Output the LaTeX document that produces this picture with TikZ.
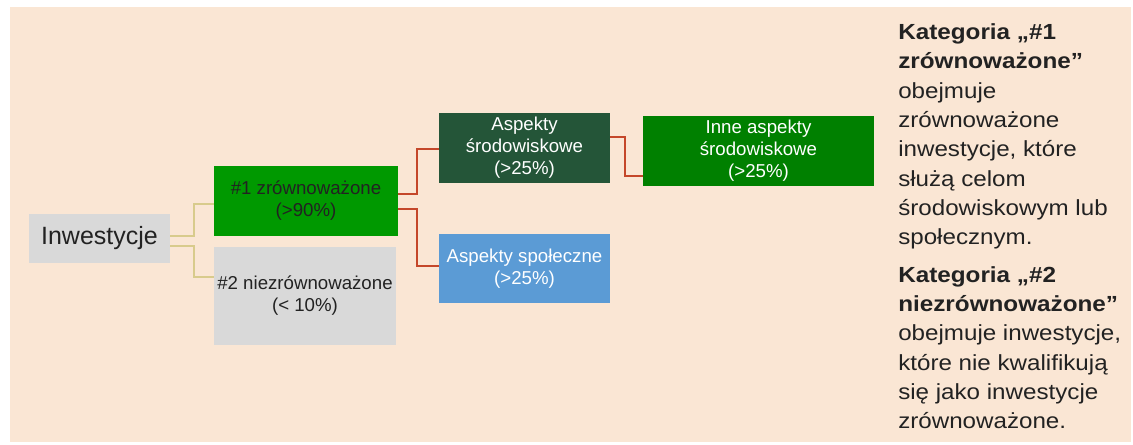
\documentclass[tikz,border=0pt]{standalone}
\usepackage{fontspec}
\setmainfont{Liberation Sans}
\newfontfamily\sideregular[FakeStretch=1.105]{Liberation Sans}
\newfontfamily\sidebold[FakeStretch=1.11]{Liberation Sans Bold}
\usetikzlibrary{calc}
\definecolor{bgc}{HTML}{FAE6D4}
\definecolor{greenA}{HTML}{009900}
\definecolor{greenB}{HTML}{245538}
\definecolor{greenC}{HTML}{008000}
\definecolor{greyA}{HTML}{D9D9D9}
\definecolor{blueA}{HTML}{5B9BD5}
\definecolor{redline}{HTML}{C4472A}
\definecolor{yelline}{HTML}{D8CB8C}
\definecolor{txt}{HTML}{222222}
\tikzset{
  box/.style={inner sep=0pt, align=center, font=\fontsize{14}{16.5}\selectfont},
  ylink/.style={draw=yelline, line width=1.5pt},
  rlink/.style={draw=redline, line width=1.5pt},
}
\begin{document}
\begin{tikzpicture}[x=0.75pt,y=-0.75pt]
\useasboundingbox (0,0) rectangle (1133,444);
\fill[bgc] (10,7) rectangle (1131,442);
\node[box, fill=greyA, text=txt, minimum width=141*0.75pt, minimum height=49*0.75pt, font=\fontsize{18.75}{22}\selectfont] (inv) at (99.5,238.5) {Inwestycje};
\node[box, fill=greenA, text=txt, minimum width=184*0.75pt, minimum height=70*0.75pt] (n1) at (306,201) {\#1 zrównoważone\\(>90\%)};
\node[box, fill=greyA, text=txt, minimum width=182*0.75pt, minimum height=98*0.75pt] (n2) at (305,296) {\#2 niezrównoważone\\(< 10\%)};
\node[box, fill=greenB, text=white, minimum width=171*0.75pt, minimum height=70*0.75pt] (as) at (524.5,148) {Aspekty\\środowiskowe\\(>25\%)};
\node[box, fill=blueA, text=white, minimum width=171*0.75pt, minimum height=69*0.75pt] (ap) at (524.5,268.5) {Aspekty społeczne\\(>25\%)};
\node[box, fill=greenC, text=white, minimum width=231*0.75pt, minimum height=70*0.75pt] (inne) at (758.5,151) {Inne aspekty\\środowiskowe\\(>25\%)};
% connectors
\draw[ylink] ($(inv.east)+(0,-2.5)$) -- ++(24,0) |- ($(n1.west)+(0,3)$);
\draw[ylink] ($(inv.east)+(0,7.5)$) -- ++(24,0) |- ($(n2.west)+(0,-19)$);
\draw[rlink] ($(n1.east)+(0,-7)$) -- ++(19,0) |- ($(as.west)+(0,1)$);
\draw[rlink] ($(n1.east)+(0,8)$) -- ++(19,0) |- ($(ap.west)+(0,-2.5)$);
\draw[rlink] ($(as.east)+(0,-11)$) -- ++(15,0) |- ($(inne.west)+(0,25)$);
% side text
\node[anchor=north west, inner sep=0pt, align=left, text=txt, font=\fontsize{16.4}{22}\sideregular] (side) at (898,23.5) {%
{\sidebold Kategoria „\#1}\\
{\sidebold zrównoważone”}\\
obejmuje\\
zrównoważone\\
inwestycje, które\\
służą celom\\
środowiskowym lub\\
społecznym.\\[6pt]
{\sidebold Kategoria „\#2}\\
{\sidebold niezrównoważone”}\\
obejmuje inwestycje,\\
które nie kwalifikują\\
się jako inwestycje\\
zrównoważone.};
\end{tikzpicture}
\end{document}
